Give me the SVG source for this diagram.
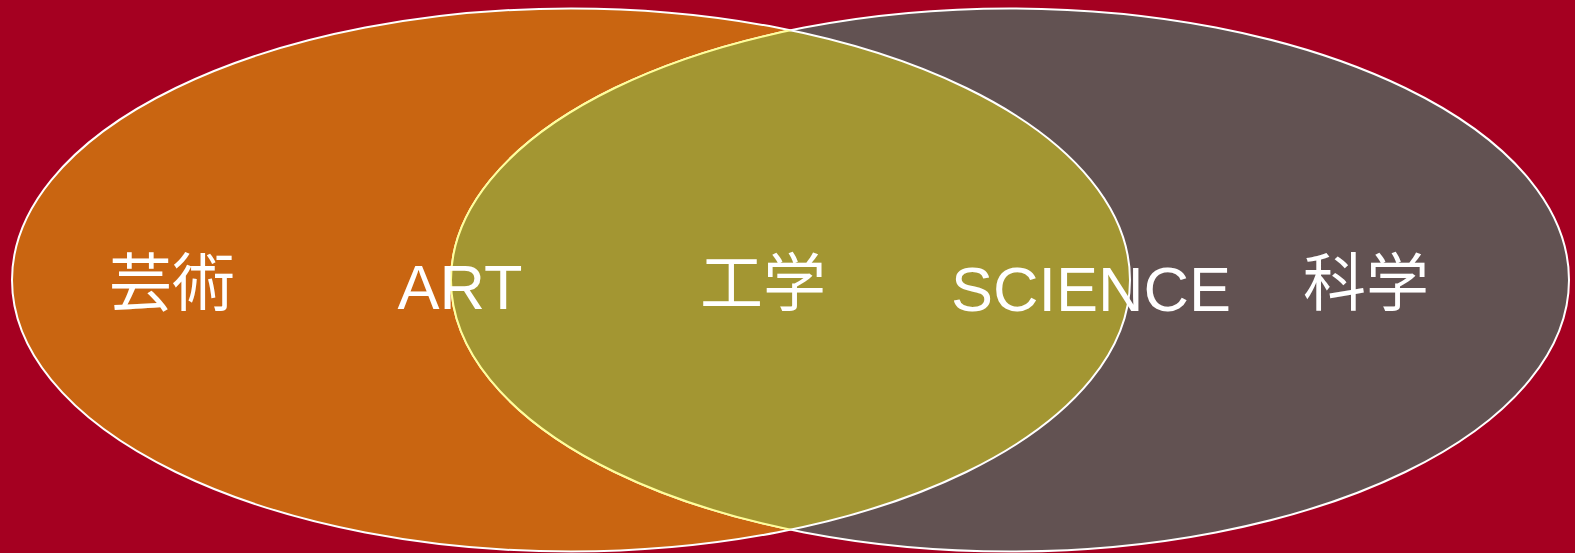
<svg xmlns="http://www.w3.org/2000/svg" width="1575" height="553" viewBox="0 0 1575 553">
<style>
.t{font-family:"Liberation Sans","Noto Sans CJK JP",sans-serif;font-size:63px;fill:#ffffff;text-anchor:middle}
.c{font-family:"Noto Sans CJK JP","Noto Sans CJK SC",sans-serif;font-size:63px;fill:#ffffff;text-anchor:middle}
</style>
<defs>
<clipPath id="clipL"><ellipse cx="571" cy="280" rx="559" ry="271.5"/></clipPath>
<clipPath id="clipR"><ellipse cx="1010" cy="280" rx="559" ry="271.5"/></clipPath>
</defs>
<rect width="1575" height="553" fill="#A50021"/>
<g id="art">
<ellipse cx="571" cy="280" rx="559" ry="271.5" fill="#C96511" stroke="#ffffff" stroke-width="2"/>
</g>
<g id="science">
<ellipse cx="1010" cy="280" rx="559" ry="271.5" fill="#625252" stroke="#ffffff" stroke-width="2"/>
</g>
<g id="engineering">
<ellipse cx="1010" cy="280" rx="559" ry="271.5" fill="#A39632" clip-path="url(#clipL)"/>
<ellipse cx="1010" cy="280" rx="559" ry="271.5" fill="none" stroke="#FFFF99" stroke-width="2" clip-path="url(#clipL)"/>
<ellipse cx="571" cy="280" rx="559" ry="271.5" fill="none" stroke="#ffffff" stroke-width="2" clip-path="url(#clipR)"/>
</g>
<g id="labels">
<text class="c" x="172" y="305">芸術</text>
<text class="t" x="460" y="309">ART</text>
<text class="c" x="763" y="305">工学</text>
<text class="t" x="1091" y="311">SCIENCE</text>
<text class="c" x="1366" y="305">科学</text>
</g>
</svg>
